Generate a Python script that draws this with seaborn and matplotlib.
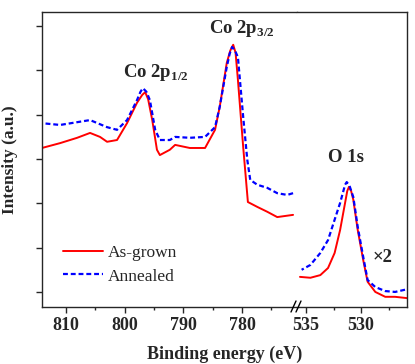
import numpy as np
import matplotlib
matplotlib.use("Agg")
import matplotlib.pyplot as plt
from matplotlib.lines import Line2D
import seaborn as sns

# Co 2p region (binding energy in eV, intensity in a.u.)
co_energy_red = [814.1, 811.0, 808.1, 805.9, 804.2, 803.0, 801.3, 799.6, 797.9, 797.0, 796.5,
                 796.0, 795.3, 794.5, 794.0, 792.3, 791.4, 788.9, 786.3, 784.6, 783.8, 782.6,
                 782.0, 781.5, 781.1, 780.7, 779.8, 779.0, 777.4, 775.7, 774.0, 771.3]
co_red = [3.25, 3.36, 3.48, 3.59, 3.50, 3.39, 3.43, 3.81, 4.27, 4.45, 4.51,
          4.35, 3.88, 3.21, 3.09, 3.21, 3.32, 3.25, 3.25, 3.66, 4.18, 5.17,
          5.45, 5.58, 5.40, 4.79, 3.27, 2.03, 1.92, 1.81, 1.69, 1.74]

co_energy_blue = [814.1, 811.0, 805.9, 803.0, 801.3, 799.6, 797.9, 797.3, 796.9, 796.3,
                  795.7, 794.8, 794.0, 792.3, 791.4, 788.9, 786.3, 784.6, 783.8, 782.6,
                  782.1, 781.7, 781.2, 780.7, 779.8, 779.1, 778.6, 777.4, 775.7, 774.0,
                  772.3, 771.3]
co_blue = [3.81, 3.77, 3.88, 3.72, 3.66, 3.88, 4.33, 4.52, 4.60, 4.52,
           4.33, 3.66, 3.43, 3.43, 3.50, 3.48, 3.50, 3.72, 4.18, 5.08,
           5.38, 5.53, 5.45, 5.30, 3.95, 2.98, 2.53, 2.42, 2.35, 2.23,
           2.19, 2.23]

# O 1s region (x2)
o_energy_red = [535.55, 534.6, 533.7, 533.0, 532.4, 531.9, 531.45, 531.25, 531.1, 530.9,
                530.7, 530.3, 529.8, 529.4, 528.7, 527.8, 526.9, 525.8]
o_red = [0.34, 0.32, 0.38, 0.54, 0.88, 1.40, 2.01, 2.28, 2.37, 2.28,
         2.08, 1.40, 0.72, 0.23, 0.0, -0.11, -0.11, -0.14]

o_energy_blue = [535.4, 534.6, 533.7, 533.0, 532.4, 531.9, 531.45, 531.3, 531.05, 530.7,
                 530.3, 529.8, 529.4, 528.7, 527.8, 526.9, 526.0]
o_blue = [0.50, 0.61, 0.88, 1.17, 1.63, 2.01, 2.42, 2.48, 2.40, 2.14,
          1.47, 0.79, 0.27, 0.11, 0.02, 0.0, 0.05]

sns.set_style("ticks")
plt.rcParams['font.family'] = ['Liberation Serif', 'DejaVu Serif']
plt.rcParams['font.weight'] = 'bold'
plt.rcParams['axes.linewidth'] = 1.0
plt.rcParams['xtick.direction'] = 'out'
plt.rcParams['ytick.direction'] = 'out'

W, H = 415, 364
fig = plt.figure(figsize=(W / 100, H / 100), dpi=100)
bottom = (H - 307) / H
height = (307 - 12) / H
ax1 = fig.add_axes([42 / W, bottom, (297 - 42) / W, height])
ax2 = fig.add_axes([297 / W, bottom, (407 - 297) / W, height], sharey=ax1)

red = '#ff0000'
blue = '#0000ff'
dash = (0, (2.2, 1.3))

sns.lineplot(x=co_energy_red, y=co_red, ax=ax1, color=red, lw=1.4, label='As-grown')
sns.lineplot(x=co_energy_blue, y=co_blue, ax=ax1, color=blue, lw=1.6, linestyle=dash, label='Annealed')
sns.lineplot(x=o_energy_red, y=o_red, ax=ax2, color=red, lw=1.4)
sns.lineplot(x=o_energy_blue, y=o_blue, ax=ax2, color=blue, lw=1.6, linestyle=dash)

ax1.set_xlim(814.09, 770.63)
ax2.set_xlim(535.82, 525.82)
ax1.set_ylim(-0.34, 6.32)

ax1.set_xticks([810, 800, 790, 780])
ax1.set_xticks([805, 795, 785, 775], minor=True)
ax2.set_xticks([535, 530])
ax2.set_xticks([532.5, 527.5], minor=True)
ax1.set_yticks(range(7))
ax1.set_yticklabels([])

for ax in (ax1, ax2):
    ax.tick_params(which='major', length=4, width=1, labelsize=13, pad=3)
    ax.tick_params(which='minor', length=2.2, width=1)
    for lab in ax.get_xticklabels():
        lab.set_fontweight('bold')
    ax.set_xlabel('')
    ax.set_ylabel('')

ax1.spines['right'].set_visible(False)
ax2.spines['left'].set_visible(False)
ax2.tick_params(axis='y', which='both', left=False, labelleft=False)

ax1.set_ylabel('Intensity (a.u.)', fontsize=12.5, fontweight='bold', labelpad=10)
fig.text(224.5 / W, (H - 354) / H, 'Binding energy (eV)', ha='center', va='center',
         fontsize=13, fontweight='bold')

ax1.text(794.7, 4.85, r'Co 2p$_\mathregular{1/2}$', ha='center', va='baseline',
         fontsize=13.5, fontweight='bold')
ax1.text(780.0, 5.85, r'Co 2p$_\mathregular{3/2}$', ha='center', va='baseline',
         fontsize=13.5, fontweight='bold')
ax2.text(531.4, 2.93, 'O 1s', ha='center', va='baseline', fontsize=13.5, fontweight='bold')
ax2.text(528.0, 0.68, '×2', ha='center', va='baseline', fontsize=13.5, fontweight='bold')

leg = ax1.legend(loc='center left', bbox_to_anchor=((63 - 42) / 255, (307 - 264.5) / 295),
                 frameon=False, borderpad=0, borderaxespad=0, handlelength=2.3,
                 handletextpad=0.3, labelspacing=0.45,
                 prop={'family': 'Liberation Serif', 'weight': 'normal', 'size': 12.5})

# break marks on the bottom axis
for x0 in (291, 296):
    fig.add_artist(Line2D([x0 / W, (x0 + 5) / W], [(H - 312) / H, (H - 301) / H],
                          color='black', lw=1.0, transform=fig.transFigure))

fig.savefig('out.png', dpi=100)
